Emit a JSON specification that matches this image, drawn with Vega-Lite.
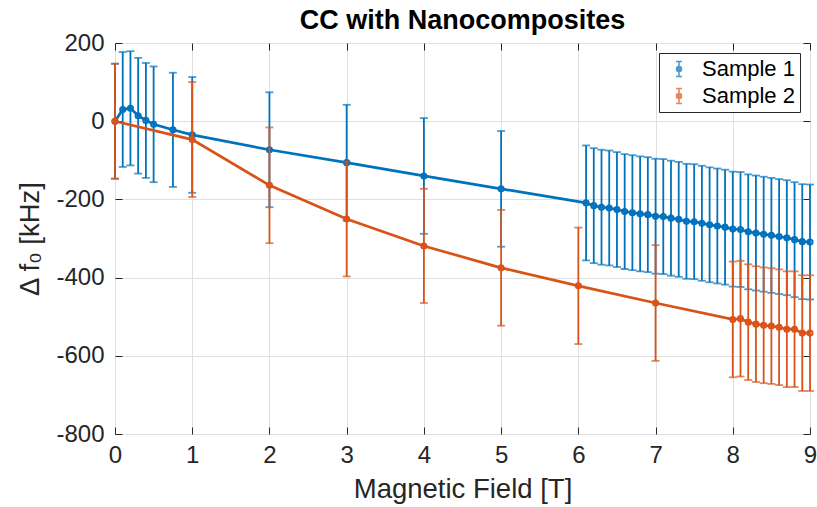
{
  "$schema": "https://vega.github.io/schema/vega-lite/v6.json",
  "width": 695,
  "height": 391,
  "autosize": "none",
  "padding": {"left": 115, "top": 43, "right": 7, "bottom": 73},
  "background": "white",
  "title": {"text": "CC with Nanocomposites", "font": "Liberation Sans", "fontSize": 27, "fontWeight": "bold", "color": "#000000", "anchor": "middle", "offset": -4},
  "datasets": {
    "d": [
      {"s": "Sample 1", "x": 0, "y": 0, "e": 147},
      {"s": "Sample 1", "x": 0.1, "y": 30, "e": 147},
      {"s": "Sample 1", "x": 0.2, "y": 33, "e": 146},
      {"s": "Sample 1", "x": 0.3, "y": 14, "e": 148},
      {"s": "Sample 1", "x": 0.4, "y": 2, "e": 147},
      {"s": "Sample 1", "x": 0.5, "y": -8, "e": 148},
      {"s": "Sample 1", "x": 0.75, "y": -22, "e": 146},
      {"s": "Sample 1", "x": 1, "y": -35, "e": 148},
      {"s": "Sample 1", "x": 2, "y": -73, "e": 147},
      {"s": "Sample 1", "x": 3, "y": -106, "e": 148},
      {"s": "Sample 1", "x": 4, "y": -140, "e": 148},
      {"s": "Sample 1", "x": 5, "y": -173, "e": 148},
      {"s": "Sample 1", "x": 6.1, "y": -209, "e": 147},
      {"s": "Sample 1", "x": 6.2, "y": -216, "e": 147},
      {"s": "Sample 1", "x": 6.3, "y": -220, "e": 147},
      {"s": "Sample 1", "x": 6.4, "y": -222, "e": 147},
      {"s": "Sample 1", "x": 6.5, "y": -226, "e": 147},
      {"s": "Sample 1", "x": 6.6, "y": -231, "e": 147},
      {"s": "Sample 1", "x": 6.7, "y": -234, "e": 147},
      {"s": "Sample 1", "x": 6.8, "y": -237, "e": 147},
      {"s": "Sample 1", "x": 6.9, "y": -239, "e": 147},
      {"s": "Sample 1", "x": 7.0, "y": -243, "e": 147},
      {"s": "Sample 1", "x": 7.1, "y": -244, "e": 147},
      {"s": "Sample 1", "x": 7.2, "y": -248, "e": 147},
      {"s": "Sample 1", "x": 7.3, "y": -251, "e": 147},
      {"s": "Sample 1", "x": 7.4, "y": -256, "e": 147},
      {"s": "Sample 1", "x": 7.5, "y": -257, "e": 147},
      {"s": "Sample 1", "x": 7.6, "y": -261, "e": 147},
      {"s": "Sample 1", "x": 7.7, "y": -265, "e": 147},
      {"s": "Sample 1", "x": 7.8, "y": -268, "e": 147},
      {"s": "Sample 1", "x": 7.9, "y": -271, "e": 147},
      {"s": "Sample 1", "x": 8.0, "y": -276, "e": 147},
      {"s": "Sample 1", "x": 8.1, "y": -277, "e": 147},
      {"s": "Sample 1", "x": 8.2, "y": -283, "e": 147},
      {"s": "Sample 1", "x": 8.3, "y": -286, "e": 147},
      {"s": "Sample 1", "x": 8.4, "y": -289, "e": 147},
      {"s": "Sample 1", "x": 8.5, "y": -292, "e": 147},
      {"s": "Sample 1", "x": 8.6, "y": -295, "e": 147},
      {"s": "Sample 1", "x": 8.7, "y": -298, "e": 147},
      {"s": "Sample 1", "x": 8.8, "y": -303, "e": 147},
      {"s": "Sample 1", "x": 8.9, "y": -308, "e": 147},
      {"s": "Sample 1", "x": 9.0, "y": -309, "e": 147},
      {"s": "Sample 2", "x": 0, "y": 0, "e": 147},
      {"s": "Sample 2", "x": 1, "y": -47, "e": 147},
      {"s": "Sample 2", "x": 2, "y": -164, "e": 148},
      {"s": "Sample 2", "x": 3, "y": -250, "e": 147},
      {"s": "Sample 2", "x": 4, "y": -319, "e": 146},
      {"s": "Sample 2", "x": 5, "y": -375, "e": 148},
      {"s": "Sample 2", "x": 6, "y": -421, "e": 149},
      {"s": "Sample 2", "x": 7, "y": -465, "e": 148},
      {"s": "Sample 2", "x": 8.0, "y": -507, "e": 148},
      {"s": "Sample 2", "x": 8.1, "y": -505, "e": 148},
      {"s": "Sample 2", "x": 8.2, "y": -514, "e": 148},
      {"s": "Sample 2", "x": 8.3, "y": -519, "e": 148},
      {"s": "Sample 2", "x": 8.4, "y": -522, "e": 148},
      {"s": "Sample 2", "x": 8.5, "y": -524, "e": 148},
      {"s": "Sample 2", "x": 8.6, "y": -527, "e": 148},
      {"s": "Sample 2", "x": 8.7, "y": -532, "e": 148},
      {"s": "Sample 2", "x": 8.8, "y": -532, "e": 148},
      {"s": "Sample 2", "x": 8.9, "y": -542, "e": 148},
      {"s": "Sample 2", "x": 9.0, "y": -542, "e": 148}
    ]
  },
  "data": {"name": "d"},
  "config": {
    "view": {"stroke": "#262626", "strokeWidth": 1},
    "axis": {
      "labelFont": "Liberation Sans",
      "labelFontSize": 24,
      "labelColor": "#262626",
      "titleFont": "Liberation Sans",
      "titleFontSize": 27.5,
      "titleFontWeight": "normal",
      "titleColor": "#262626",
      "gridColor": "#dfdfdf",
      "gridWidth": 1,
      "domain": false,
      "tickColor": "#262626",
      "tickSize": -7,
      "tickWidth": 1
    },
    "legend": {
      "orient": "top-right",
      "offset": 10,
      "strokeColor": "#262626",
      "fillColor": "white",
      "padding": 5,
      "labelFont": "Liberation Sans",
      "labelFontSize": 22,
      "labelColor": "#000000",
      "rowPadding": 5,
      "symbolOffset": 4,
      "labelOffset": 12
    }
  },
  "resolve": {"axis": {"x": "independent", "y": "independent"}},
  "layer": [
    {
      "encoding": {
        "x": {"field": "x", "type": "quantitative", "scale": {"domain": [0, 9], "nice": false, "zero": false},
              "axis": {"orient": "bottom", "values": [0, 1, 2, 3, 4, 5, 6, 7, 8, 9], "title": "Magnetic Field [T]", "labelPadding": 16, "titlePadding": 8, "labelFlush": false, "labelExpr": "'' + datum.value"}},
        "y": {"field": "y", "type": "quantitative", "scale": {"domain": [-800, 200], "nice": false, "zero": false},
              "axis": {"orient": "left", "values": [-800, -600, -400, -200, 0, 200], "title": "Δ f₀ [kHz]", "labelPadding": 18, "titlePadding": 11, "labelFlush": false, "labelExpr": "'' + datum.value"}},
        "color": {"field": "s", "type": "nominal",
                  "scale": {"domain": ["Sample 1", "Sample 2"], "range": ["#0072BD", "#D95319"]},
                  "legend": {"title": null, "symbolType": "M0,-1V1M-0.4,-1H0.4M-0.4,1H0.4M0.33,0A0.33,0.33,0,1,1,-0.33,0A0.33,0.33,0,1,1,0.33,0", "symbolSize": 225, "symbolStrokeWidth": 1.6, "symbolFillColor": "transparent"}}
      },
      "layer": [
        {
          "transform": [{"filter": "datum.s === 'Sample 1'"}],
          "mark": {"type": "errorbar", "ticks": {"size": 8, "thickness": 1.8}, "rule": {"strokeWidth": 1.8}},
          "encoding": {"yError": {"field": "e"}}
        },
        {
          "transform": [{"filter": "datum.s === 'Sample 1'"}],
          "mark": {"type": "line", "strokeWidth": 2.7},
          "encoding": {"order": {"field": "x", "type": "quantitative"}}
        },
        {
          "transform": [{"filter": "datum.s === 'Sample 1'"}],
          "mark": {"type": "point", "filled": false, "size": 26, "strokeWidth": 2, "opacity": 1}
        },
        {
          "transform": [{"filter": "datum.s === 'Sample 2'"}],
          "mark": {"type": "errorbar", "ticks": {"size": 8, "thickness": 1.8}, "rule": {"strokeWidth": 1.8}},
          "encoding": {"yError": {"field": "e"}}
        },
        {
          "transform": [{"filter": "datum.s === 'Sample 2'"}],
          "mark": {"type": "line", "strokeWidth": 2.7},
          "encoding": {"order": {"field": "x", "type": "quantitative"}}
        },
        {
          "transform": [{"filter": "datum.s === 'Sample 2'"}],
          "mark": {"type": "point", "filled": false, "size": 26, "strokeWidth": 2, "opacity": 1}
        }
      ]
    },
    {
      "mark": {"type": "point", "opacity": 0},
      "encoding": {
        "x": {"field": "x", "type": "quantitative", "scale": {"domain": [0, 9], "nice": false, "zero": false},
              "axis": {"orient": "top", "values": [0, 1, 2, 3, 4, 5, 6, 7, 8, 9], "labels": false, "grid": false, "title": null}},
        "y": {"field": "y", "type": "quantitative", "scale": {"domain": [-800, 200], "nice": false, "zero": false},
              "axis": {"orient": "right", "values": [-800, -600, -400, -200, 0, 200], "labels": false, "grid": false, "title": null}}
      }
    }
  ]
}
